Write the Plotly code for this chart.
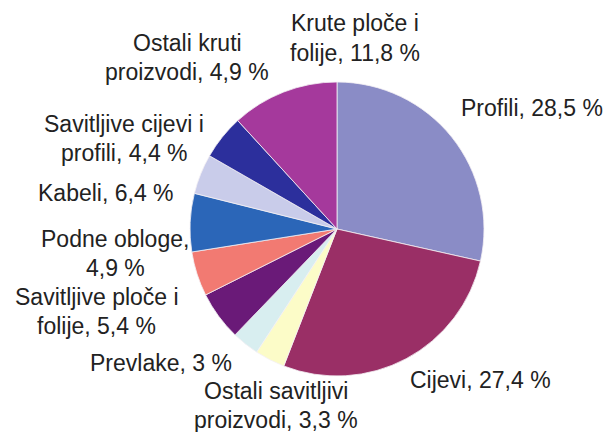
import plotly.graph_objects as go

categories = ["Profili", "Cijevi", "Ostali savitljivi proizvodi", "Prevlake",
              "Savitljive ploče i folije", "Podne obloge", "Kabeli",
              "Savitljive cijevi i profili", "Ostali kruti proizvodi", "Krute ploče i folije"]
values = [28.5, 27.4, 3.3, 3.0, 5.4, 4.9, 6.4, 4.4, 4.9, 11.8]
label_texts = ["Profili, 28,5 %", "Cijevi, 27,4 %", "Ostali savitljivi<br>proizvodi, 3,3 %",
               "Prevlake, 3 %", "Savitljive ploče i<br>folije, 5,4 %", "Podne obloge,<br>4,9 %",
               "Kabeli, 6,4 %", "Savitljive cijevi i<br>profili, 4,4 %",
               "Ostali kruti<br>proizvodi, 4,9 %", "Krute ploče i<br>folije, 11,8 %"]

colors = ["#8A8CC6", "#9A2F66", "#FCFCC8", "#D8EEF0", "#6A1A78",
          "#F27A72", "#2B66B8", "#C9CCEA", "#2C2F9C", "#A5399C"]
# label block centers in pixels (x, y from top)
label_pos = [(532, 108), (480, 380), (276, 405), (161, 363), (97, 311),
             (115, 253), (106, 193), (124, 138), (187, 57), (355, 38)]
LINE_GAP = 29

W, H = 605, 432
cx, cy, r = 337, 229, 147

fig = go.Figure(go.Pie(
    labels=categories, values=values, sort=False, direction="clockwise",
    rotation=0, textinfo="none", hoverinfo="label+value",
    marker=dict(colors=colors, line=dict(color="#f4f0f4", width=0.8)),
    domain=dict(x=[(cx - r) / W, (cx + r) / W], y=[(H - cy - r) / H, (H - cy + r) / H]),
    showlegend=False,
))

for t, (px, py) in zip(label_texts, label_pos):
    lines = t.split("<br>")
    n = len(lines)
    for i, ln in enumerate(lines):
        ly = py + (i - (n - 1) / 2) * LINE_GAP
        fig.add_annotation(x=px / W, y=1 - ly / H, xref="paper", yref="paper",
                           text=ln, showarrow=False, xanchor="center", yanchor="middle",
                           align="center",
                           font=dict(family="Liberation Sans, Arial", size=23, color="#222222"))

fig.update_layout(width=W, height=H, margin=dict(l=0, r=0, t=0, b=0),
                  paper_bgcolor="white", plot_bgcolor="white")
fig.write_html("out.html", config={"displayModeBar": False},
               post_script="document.body.style.margin='0';")
